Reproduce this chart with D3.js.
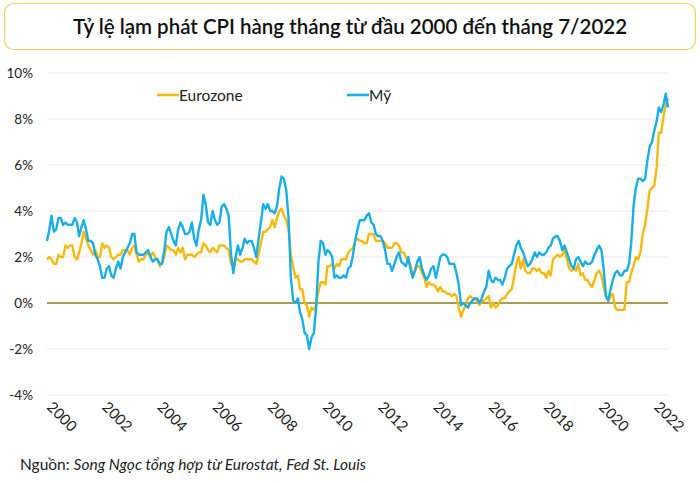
<!DOCTYPE html>
<html><head><meta charset="utf-8">
<script src="https://cdn.jsdelivr.net/npm/d3@7"></script>
<style>body{margin:0;background:#fff;font-family:Lato,"Open Sans",sans-serif}</style>
</head><body><svg id="c" width="700" height="483"></svg>
<script>
const startYear = 2000;
const usCPI = [
2.7,3.2,3.8,3.1,3.2,3.7,3.7,3.4,3.5,3.4,3.4,3.4,
3.7,3.5,2.9,3.3,3.6,3.2,2.7,2.7,2.6,2.1,1.9,1.6,
1.1,1.1,1.5,1.6,1.2,1.1,1.5,1.8,1.5,2.0,2.2,2.4,
2.6,3.0,3.0,2.2,2.1,2.1,2.1,2.2,2.3,2.0,1.8,1.9,
1.9,1.7,1.7,2.3,3.1,3.3,3.0,2.7,2.5,3.2,3.5,3.3,
3.0,3.0,3.1,3.5,2.8,2.5,3.2,3.6,4.7,4.3,3.5,3.4,
4.0,3.6,3.4,3.5,4.2,4.3,4.1,3.8,2.1,1.3,2.0,2.5,
2.1,2.4,2.8,2.6,2.7,2.7,2.4,2.0,2.8,3.5,4.3,4.1,
4.3,4.0,4.0,3.9,4.2,5.0,5.5,5.4,4.9,3.7,1.1,0.1,
0.0,0.2,-0.4,-0.7,-1.3,-1.4,-2.0,-1.5,-1.3,-0.2,1.8,2.7,
2.6,2.1,2.3,2.2,2.0,1.1,1.2,1.1,1.1,1.2,1.1,1.5,
1.6,2.1,2.7,3.2,3.6,3.6,3.6,3.8,3.9,3.5,3.4,3.0,
2.9,2.9,2.7,2.3,1.7,1.7,1.4,1.7,2.0,2.2,1.8,1.7,
1.6,2.0,1.5,1.1,1.4,1.8,2.0,1.5,1.2,1.0,1.2,1.5,
1.6,1.1,1.5,2.0,2.1,2.1,2.0,1.7,1.7,1.7,1.3,0.8,
-0.1,0.0,-0.1,-0.2,0.0,0.1,0.2,0.2,0.0,0.2,0.5,0.7,
1.4,1.0,0.9,1.1,1.0,1.0,0.8,1.1,1.5,1.6,1.7,2.1,
2.5,2.7,2.4,2.2,1.9,1.6,1.7,1.9,2.2,2.0,2.2,2.1,
2.1,2.2,2.4,2.5,2.8,2.9,2.9,2.7,2.3,2.5,2.2,1.9,
1.6,1.5,1.9,2.0,1.8,1.6,1.8,1.7,1.7,1.8,2.1,2.3,
2.5,2.3,1.5,0.3,0.1,0.6,1.0,1.3,1.4,1.2,1.2,1.4,
1.4,1.7,2.6,4.2,5.0,5.4,5.4,5.3,5.4,6.2,6.8,7.0,
7.5,7.9,8.5,8.3,8.6,9.1,8.5];
const euroCPI = [
1.9,2.0,1.9,1.7,1.7,2.1,2.0,2.0,2.5,2.4,2.5,2.5,
2.0,1.9,2.2,2.6,3.1,2.8,2.5,2.3,2.1,2.3,2.0,2.0,
2.6,2.4,2.5,2.4,2.0,1.9,2.0,2.1,2.1,2.3,2.3,2.3,
2.1,2.4,2.5,2.1,1.8,1.9,1.9,2.1,2.2,2.0,2.2,2.0,
1.9,1.6,1.7,2.0,2.5,2.4,2.3,2.3,2.1,2.4,2.2,2.4,
1.9,2.1,2.1,2.1,2.0,2.1,2.2,2.2,2.6,2.5,2.3,2.2,
2.4,2.3,2.2,2.5,2.5,2.5,2.4,2.3,1.7,1.6,1.9,1.9,
1.8,1.8,1.9,1.9,1.9,1.9,1.8,1.7,2.1,2.6,3.1,3.1,
3.2,3.3,3.6,3.3,3.7,4.0,4.1,3.8,3.6,3.2,2.1,1.6,
1.1,1.2,0.6,0.6,0.0,-0.1,-0.6,-0.2,-0.3,-0.1,0.5,0.9,
0.9,0.8,1.6,1.6,1.7,1.5,1.7,1.6,1.9,1.9,1.9,2.2,
2.3,2.4,2.7,2.8,2.7,2.7,2.6,2.6,3.0,3.0,3.0,2.7,
2.7,2.7,2.7,2.6,2.4,2.4,2.4,2.6,2.6,2.5,2.2,2.2,
2.0,1.8,1.7,1.2,1.4,1.6,1.6,1.3,1.1,0.7,0.9,0.8,
0.8,0.7,0.5,0.7,0.5,0.5,0.4,0.4,0.3,0.4,0.3,-0.2,
-0.6,-0.3,-0.1,0.2,0.3,0.2,0.2,0.1,-0.1,0.1,0.1,0.2,
0.3,-0.2,0.0,-0.2,-0.1,0.1,0.2,0.2,0.4,0.5,0.6,1.1,
1.7,2.0,1.5,1.9,1.4,1.3,1.3,1.5,1.5,1.4,1.5,1.3,
1.3,1.1,1.4,1.2,1.9,2.0,2.1,2.0,2.1,2.3,1.9,1.5,
1.4,1.5,1.4,1.7,1.2,1.3,1.0,1.0,0.8,0.7,1.0,1.3,
1.4,1.2,0.7,0.3,0.1,0.3,0.4,-0.2,-0.3,-0.3,-0.3,-0.3,
0.9,0.9,1.3,1.6,2.0,1.9,2.2,3.0,3.4,4.1,4.9,5.0,
5.1,5.9,7.4,7.4,8.1,8.6,8.9];
const yTicks = [-4,-2,0,2,4,6,8,10];
const xTickYears = [2000,2002,2004,2006,2008,2010,2012,2014,2016,2018,2020,2022];
const seriesNames = ["Eurozone","Mỹ"];
const colors = ["#f6b90f","#18aee8"];

const svg = d3.select("#c");
svg.append("rect").attr("x",4.5).attr("y",3.5).attr("width",691).attr("height",46).attr("rx",9)
  .attr("fill","#fff").attr("stroke","#f5cf5a").attr("stroke-width",1.2);
svg.append("text").attr("x",350).attr("y",34).attr("text-anchor","middle")
  .attr("font-size",20.5).attr("font-weight",600).attr("font-family","Lato").attr("fill","#111")
  .text("Tỷ lệ lạm phát CPI hàng tháng từ đầu 2000 đến tháng 7/2022");

const x = d3.scaleTime().domain([new Date(2000,0,1), new Date(2022,6,1)]).range([47,668]);
const y = d3.scaleLinear().domain([-4,10]).range([395,73]);

svg.append("g").selectAll("line").data(yTicks.filter(d=>d!==0)).join("line")
  .attr("x1",47).attr("x2",668).attr("y1",d=>y(d)).attr("y2",d=>y(d))
  .attr("stroke","#e9e9e9");
svg.append("g").selectAll("text").data(yTicks).join("text")
  .attr("x",33).attr("y",d=>y(d)+5).attr("text-anchor","end").attr("font-size",13.5)
  .attr("fill","#222").text(d=>d+"%");
svg.append("line").attr("x1",47).attr("x2",668).attr("y1",y(0)).attr("y2",y(0))
  .attr("stroke","#8a7a1e").attr("stroke-width",1.3);

svg.append("g").selectAll("text").data(xTickYears).join("text")
  .attr("transform",d=>`translate(${x(new Date(d,0,1))-1},${408}) rotate(45)`)
  .attr("font-size",15).attr("fill","#222").text(d=>d);

const dates = usCPI.map((_,i)=>new Date(startYear, i, 1));
const line = d3.line().x((d,i)=>x(dates[i])).y(d=>y(d));
[euroCPI, usCPI].forEach((s,k)=>{
  svg.append("path").datum(s).attr("d",line).attr("fill","none")
    .attr("stroke",colors[k]).attr("stroke-width",2.4).attr("stroke-linejoin","round");
});

const legX = [157, 347];
seriesNames.forEach((n,k)=>{
  svg.append("line").attr("x1",legX[k]).attr("x2",legX[k]+22).attr("y1",95).attr("y2",95)
    .attr("stroke",colors[k]).attr("stroke-width",2.6);
  svg.append("text").attr("x",legX[k]+22).attr("y",101).attr("font-size",15.5).attr("fill","#222").text(n);
});

const src = svg.append("text").attr("x",20).attr("y",470).attr("font-size",15.5).attr("fill","#222");
src.append("tspan").text("Nguồn: ");
src.append("tspan").attr("font-style","italic").text("Song Ngọc tổng hợp từ Eurostat, Fed St. Louis");
</script></body></html>
